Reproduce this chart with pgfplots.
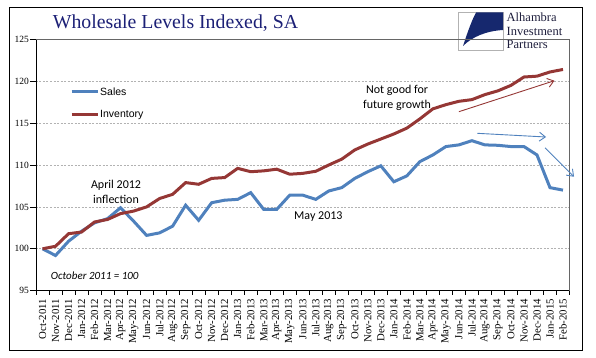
\documentclass[border=0pt]{standalone}
\usepackage{pgfplots}
\pgfplotsset{compat=1.18}
\usepackage{fontspec}
\setmainfont{Liberation Serif}
\newfontfamily\calibri{Carlito}
\newfontfamily\arialf{Liberation Sans}
\usetikzlibrary{arrows.meta}
\definecolor{salesblue}{RGB}{79,129,189}
\definecolor{invred}{RGB}{149,55,53}
\definecolor{titleblue}{RGB}{28,32,118}
\definecolor{logoblue}{RGB}{22,40,110}
\definecolor{logotext}{RGB}{30,30,60}

\pgfplotstableread{
x y
0 100.0
1 99.2
2 100.9
3 102.1
4 103.1
5 103.6
6 104.9
7 103.3
8 101.6
9 101.9
10 102.7
11 105.2
12 103.4
13 105.5
14 105.8
15 105.9
16 106.7
17 104.7
18 104.7
19 106.4
20 106.4
21 105.9
22 106.9
23 107.3
24 108.4
25 109.2
26 109.9
27 108.0
28 108.7
29 110.4
30 111.2
31 112.2
32 112.4
33 112.9
34 112.4
35 112.35
36 112.2
37 112.2
38 111.2
39 107.3
40 107.0
}\sales

\pgfplotstableread{
x y
0 100.0
1 100.3
2 101.8
3 102.0
4 103.2
5 103.5
6 104.2
7 104.5
8 105.0
9 106.0
10 106.5
11 107.9
12 107.7
13 108.4
14 108.5
15 109.6
16 109.2
17 109.3
18 109.5
19 108.9
20 109.0
21 109.25
22 110.0
23 110.7
24 111.8
25 112.5
26 113.1
27 113.7
28 114.4
29 115.5
30 116.7
31 117.2
32 117.6
33 117.8
34 118.4
35 118.85
36 119.5
37 120.5
38 120.6
39 121.1
40 121.4
}\inventory

\begin{document}
\begin{tikzpicture}
\path (0,0) rectangle (596pt,358pt);
\draw[black,line width=0.8pt] (9pt,8pt) rectangle (582.5pt,351pt);
% title
\node[font=\fontsize{19.8}{22}\selectfont, text=titleblue] at (175.5pt,335pt) {Wholesale Levels Indexed, SA};
% logo
\draw[gray!60, line width=0.5pt] (458pt,308pt) rectangle (503pt,346pt);
\fill[logoblue] (476pt,345.5pt) -- (503pt,345.5pt) -- (503pt,328pt)
  .. controls (486pt,327pt) and (472pt,321pt) .. (463pt,312pt)
  .. controls (467pt,324pt) and (471pt,336pt) .. (476pt,345.5pt) -- cycle;
\node[anchor=west, inner sep=0pt, font=\fontsize{12.5}{12.5}\selectfont, text=logotext] at (506.5pt,341pt) {Alhambra};
\node[anchor=west, inner sep=0pt, font=\fontsize{12.5}{12.5}\selectfont, text=logotext] at (506.5pt,327pt) {Investment};
\node[anchor=west, inner sep=0pt, font=\fontsize{12.5}{12.5}\selectfont, text=logotext] at (506.5pt,313.5pt) {Partners};
\begin{axis}[
  at={(36pt,67.3pt)}, anchor=south west,
  scale only axis, width=533.5pt, height=251.4pt,
  xmin=-0.5, xmax=40.5, ymin=95, ymax=125,
  clip=false,
  axis x line*=bottom, axis y line*=left,
  axis line style={black, line width=0.8pt},
  ytick={95,100,...,125},
  ymajorgrids,
  grid style={gray!60, line width=0.6pt, dash pattern=on 2pt off 1.5pt},
  tick align=outside,
  major tick length=6pt, minor tick length=4pt,
  xtick={0,...,40},
  minor xtick={-0.5,0.5,...,40.5},
  major x tick style={draw=none},
  minor x tick style={black, line width=0.6pt},
  major y tick style={black, line width=0.6pt},
  xticklabels={Oct-2011,Nov-2011,Dec-2011,Jan-2012,Feb-2012,Mar-2012,Apr-2012,May-2012,Jun-2012,Jul-2012,Aug-2012,Sep-2012,Oct-2012,Nov-2012,Dec-2012,Jan-2013,Feb-2013,Mar-2013,Apr-2013,May-2013,Jun-2013,Jul-2013,Aug-2013,Sep-2013,Oct-2013,Nov-2013,Dec-2013,Jan-2014,Feb-2014,Mar-2014,Apr-2014,May-2014,Jun-2014,Jul-2014,Aug-2014,Sep-2014,Oct-2014,Nov-2014,Dec-2014,Jan-2015,Feb-2015},
  xticklabel style={rotate=90, anchor=east, font=\fontsize{10.8}{11}\selectfont, inner sep=2pt},
  yticklabel style={font=\fontsize{9.5}{10}\selectfont, inner sep=1pt},
  /pgf/number format/assume math mode=true,
  legend style={at={(axis cs:2.11,119.4)}, anchor=north west, draw=none, fill=none,
    font=\arialf\fontsize{10.5}{12}\selectfont, row sep=12pt, inner sep=0pt, nodes={inner sep=1pt}},
  legend cell align=left,
  legend image code/.code={\draw[#1] (0pt,0pt) -- (26pt,0pt);},
]
\draw[gray!80!black, line width=0.8pt] (rel axis cs:0,1) -- (rel axis cs:1,1) -- (rel axis cs:1,0);
\addplot[salesblue, line width=3pt] table {\sales};
\addlegendentry{Sales}
\addplot[invred, line width=3pt] table {\inventory};
\addlegendentry{Inventory}
\node[font=\calibri\fontsize{12}{15}\selectfont, align=center] at (axis cs:27.25,118.06) {Not good for\\future growth};
\node[font=\calibri\fontsize{12}{15}\selectfont, align=center] at (axis cs:5.65,106.84) {April 2012\\inflection};
\node[font=\calibri\fontsize{12}{15}\selectfont] at (axis cs:21.2,103.9) {May 2013};
\node[font=\calibri\itshape\fontsize{11}{13}\selectfont, anchor=west, inner sep=0pt] at (axis cs:0.63,96.79) {October 2011 = 100};
\draw[invred, line width=0.9pt, -{Straight Barb[length=6pt,width=9pt]}] (axis cs:32.0,116.36) -- (axis cs:39.34,120.06);
\draw[salesblue, line width=0.9pt, -{Straight Barb[length=6pt,width=9pt]}] (axis cs:33.42,113.78) -- (axis cs:38.70,113.34);
\draw[salesblue, line width=0.9pt, -{Straight Barb[length=6pt,width=9pt]}] (axis cs:38.62,112.06) -- (axis cs:40.85,108.6);
\end{axis}
\end{tikzpicture}
\end{document}
